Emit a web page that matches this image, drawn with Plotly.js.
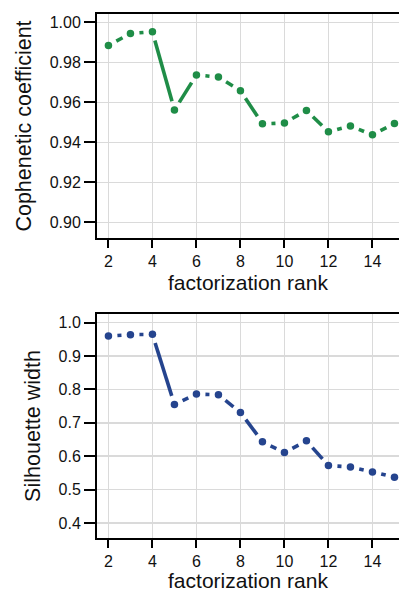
<!DOCTYPE html>
<html>
<head>
<meta charset="utf-8">
<script src="https://cdn.plot.ly/plotly-3.0.1.min.js"></script>
<style>
  html, body { margin: 0; padding: 0; background: #fff; }
  #chart { width: 399px; height: 592px; }
</style>
</head>
<body>
<div id="chart"></div>
<script>
// NMF rank survey: cophenetic coefficient and silhouette width per factorization rank
const rank = [2, 3, 4, 5, 6, 7, 8, 9, 10, 11, 12, 13, 14, 15];
const cophenetic = [0.9885, 0.9945, 0.9953, 0.9562, 0.9737, 0.9727, 0.9658,
                    0.9493, 0.9497, 0.9560, 0.9453, 0.9482, 0.9438, 0.9495];
const silhouette = [0.960, 0.964, 0.965, 0.755, 0.786, 0.784, 0.731,
                    0.643, 0.611, 0.646, 0.572, 0.568, 0.553, 0.537];
const copheneticTicks = [0.90, 0.92, 0.94, 0.96, 0.98, 1.00];
const copheneticTickText = ['0.90', '0.92', '0.94', '0.96', '0.98', '1.00'];
const silhouetteTicks = [0.4, 0.5, 0.6, 0.7, 0.8, 0.9, 1.0];
const silhouetteTickText = ['0.4', '0.5', '0.6', '0.7', '0.8', '0.9', '1.0'];
const rankTicks = [2, 4, 6, 8, 10, 12, 14];

// page geometry
const W = 399, H = 592;
const margin = { l: 97, r: 0, t: 14, b: 54 };
const panelH = 224;
const plotW = W - margin.l - margin.r;
const plotH = H - margin.t - margin.b;
const xRange = [1.48, 15.207];
const yRangeTop = [0.8922, 1.0042];
const yRangeBot = [0.355, 1.026];

const GREEN = '#1f8d47';
const BLUE = '#25448e';
const FONT = '"Liberation Sans", Arial, Helvetica, sans-serif';

// Segments between consecutive points, pulled back from each point by a
// fixed pixel gap (points-and-lines style with open space around markers).
function gappedSegments(xs, ys, yr, gapPx) {
  const sx = plotW / (xRange[1] - xRange[0]);
  const sy = panelH / (yr[1] - yr[0]);
  const gx = [], gy = [];
  for (let i = 0; i < xs.length - 1; i++) {
    const dx = xs[i + 1] - xs[i], dy = ys[i + 1] - ys[i];
    const len = Math.hypot(dx * sx, dy * sy);
    if (len <= 2 * gapPx) continue;
    const t = gapPx / len;
    gx.push(xs[i] + dx * t, xs[i + 1] - dx * t, null);
    gy.push(ys[i] + dy * t, ys[i + 1] - dy * t, null);
  }
  return { x: gx, y: gy };
}

const GAP = 9;
const segTop = gappedSegments(rank, cophenetic, yRangeTop, GAP);
const segBot = gappedSegments(rank, silhouette, yRangeBot, GAP);

const traces = [
  { x: segTop.x, y: segTop.y, xaxis: 'x2', yaxis: 'y2', mode: 'lines',
    line: { color: GREEN, width: 3.6 }, connectgaps: false, hoverinfo: 'skip' },
  { x: rank, y: cophenetic, xaxis: 'x2', yaxis: 'y2', mode: 'markers',
    marker: { color: GREEN, size: 7.5 } },
  { x: segBot.x, y: segBot.y, xaxis: 'x', yaxis: 'y', mode: 'lines',
    line: { color: BLUE, width: 3.6 }, connectgaps: false, hoverinfo: 'skip' },
  { x: rank, y: silhouette, xaxis: 'x', yaxis: 'y', mode: 'markers',
    marker: { color: BLUE, size: 7.5 } }
];

const gapFrac = (plotH - 2 * panelH) / plotH;
const botDomain = [0, panelH / plotH];
const topDomain = [panelH / plotH + gapFrac, 1];

const tickFont = { family: FONT, size: 16, color: '#111' };
const xTitleFont = { family: FONT, size: 21, color: '#111' };
const yTitleFont = { family: FONT, size: 21.5, color: '#111' };

function xAxis(anchor) {
  return {
    anchor: anchor, range: xRange, tickvals: rankTicks,
    showline: true, mirror: true, linecolor: '#000', linewidth: 2,
    ticks: 'outside', ticklen: 8, tickwidth: 2, tickcolor: '#000',
    showgrid: true, gridcolor: '#dadada', gridwidth: 1.5, zeroline: false,
    tickfont: tickFont,
    title: { text: 'factorization rank', font: xTitleFont, standoff: 6 }
  };
}
function yAxis(anchor, domain, range, vals, text, title) {
  return {
    anchor: anchor, domain: domain, range: range,
    tickvals: vals, ticktext: text,
    showline: true, mirror: false, linecolor: '#000', linewidth: 2,
    ticks: 'outside', ticklen: 11, tickwidth: 2, tickcolor: '#000',
    showgrid: true, gridcolor: '#dadada', gridwidth: 1.5, zeroline: false,
    tickfont: tickFont,
    title: { text: title, font: yTitleFont, standoff: 12 }
  };
}

const layout = {
  width: W, height: H, margin: margin,
  paper_bgcolor: '#fff', plot_bgcolor: '#fff',
  showlegend: false,
  xaxis: xAxis('y'),
  xaxis2: xAxis('y2'),
  yaxis: yAxis('x', botDomain, yRangeBot, silhouetteTicks, silhouetteTickText, 'Silhouette width'),
  yaxis2: yAxis('x2', topDomain, yRangeTop, copheneticTicks, copheneticTickText, 'Cophenetic coefficient')
};

Plotly.newPlot('chart', traces, layout, { staticPlot: true, displayModeBar: false });
</script>
</body>
</html>
